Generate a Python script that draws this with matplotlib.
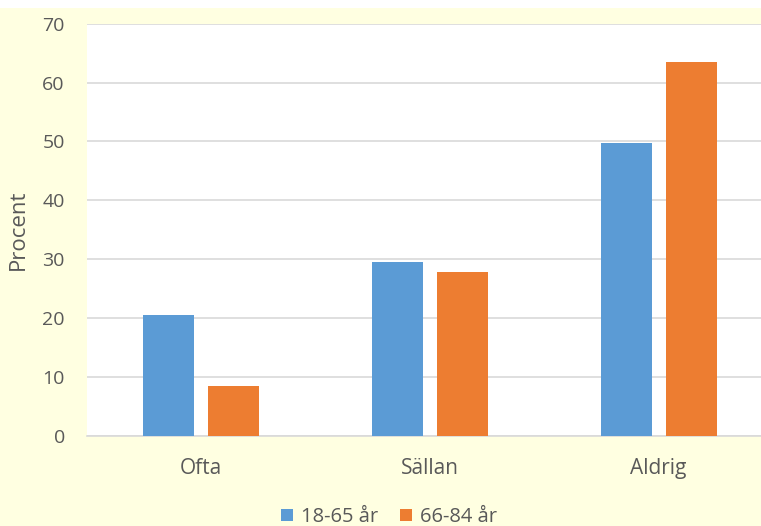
import matplotlib
matplotlib.use("Agg")
import matplotlib.pyplot as plt
import numpy as np
from matplotlib.patches import Rectangle

plt.rcParams['font.family'] = ['Open Sans', 'DejaVu Sans']

categories = ["Ofta", "Sällan", "Aldrig"]
series_names = ["18-65 år", "66-84 år"]
young = [20.5, 29.6, 49.7]
old = [8.5, 27.9, 63.5]
yticks = [0, 10, 20, 30, 40, 50, 60, 70]

blue = '#5B9BD5'
orange = '#ED7D31'
txt = '#595959'
grid_c = '#D9D9D9'
bg = '#FFFFE1'

W, H = 761, 526
fig = plt.figure(figsize=(W / 100, H / 100), dpi=100, facecolor=bg)
# white strip at the very top
fig.patches.append(Rectangle((0, 1 - 8 / H), 1, 8 / H, transform=fig.transFigure,
                             facecolor='white', edgecolor='none', zorder=0))

left, right = 87, 773
top, bottom = 23.6, 436
ax = fig.add_axes([left / W, 1 - bottom / H, (right - left) / W, (bottom - top) / H])
ax.set_facecolor('white')

x = np.arange(len(categories))
w = 0.224
off = 0.142
ax.bar(x - off, young, w, color=blue, label=series_names[0], zorder=3)
ax.bar(x + off, old, w, color=orange, label=series_names[1], zorder=3)

ax.set_xlim(-0.5, 2.5)
ax.set_ylim(0, 70)
ax.set_yticks(yticks)
ax.yaxis.grid(True, color=grid_c, linewidth=1.2, zorder=0)
ax.set_axisbelow(True)
for s in ['top', 'right', 'left']:
    ax.spines[s].set_visible(False)
ax.spines['bottom'].set_color(grid_c)
ax.spines['bottom'].set_linewidth(1.2)
ax.tick_params(axis='both', length=0, colors=txt)
ax.tick_params(axis='y', pad=16, labelsize=14)
ax.tick_params(axis='x', pad=16, labelsize=15)
ax.set_xticks(x)
ax.set_xticklabels(categories)
fig.text(18 / W, 1 - 230 / H, "Procent", rotation=90, fontsize=16, color=txt,
         ha='center', va='center')

fig.legend(loc='center', bbox_to_anchor=(389 / W, 1 - 517 / H), ncol=2, frameon=False,
           fontsize=14.5, labelcolor=txt, handlelength=0.6, handleheight=0.6,
           handletextpad=0.4, columnspacing=1.1)

fig.savefig("out.png", dpi=100, facecolor=bg)
